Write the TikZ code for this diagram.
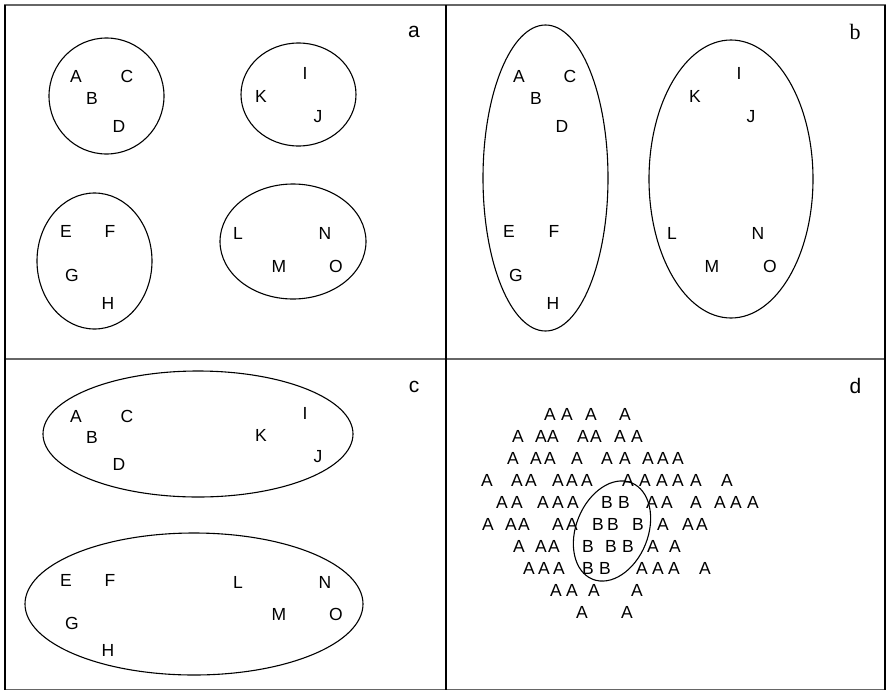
\documentclass[tikz,border=0pt]{standalone}
\usepackage{fontspec}
\setmainfont{Liberation Sans}
\newfontfamily\seriffont{Liberation Serif}
\begin{document}
\begin{tikzpicture}[x=1pt,y=-1pt,
  lt/.style={inner sep=0pt,font=\fontsize{17.5}{20}\selectfont},
  lab/.style={inner sep=0pt,font=\fontsize{21}{24}\selectfont},
  grp/.style={line width=1.1pt},
  hline/.style={line width=1.6pt,black!60},
  vline/.style={line width=1.1pt,black}]
\useasboundingbox (0,0) rectangle (886,691);
% frame
\draw[hline] (4,5) -- (886,5);
\draw[hline] (4,359) -- (886,359);
\draw[hline] (4,689.5) -- (886,689.5);
\draw[vline] (5,5) -- (5,689.5);
\draw[vline] (446,5) -- (446,689.5);
\draw[vline] (885,5) -- (885,689.5);
% panel labels
\node[lab] (la) at (414,32) {a};
\node[lab,font=\seriffont\fontsize{22}{24}\selectfont] (lb) at (855,32) {b};
\node[lab] (lc) at (414,387) {c};
\node[lab] (ld) at (855.5,385.5) {d};
% panel a
\draw[grp] (106.5,96) ellipse [x radius=57.5pt, y radius=58pt];
\draw[grp] (298.5,94.5) ellipse [x radius=57.5pt, y radius=51.5pt];
\draw[grp] (94.5,261) ellipse [x radius=57.5pt, y radius=68pt];
\draw[grp] (293,241.5) ellipse [x radius=73pt, y radius=57.5pt];
\foreach \xx/\yy/\t in {76/76/A,127/76/C,92/98/B,119/126/D,
  305/73/I,261/96/K,318/117/J,
  66/231/E,110/231/F,72/275/G,108/303/H,
  238/233/L,325/233/N,279/266/M,336/266/O}
  \node[lt] (a\t) at (\xx,\yy) {\t};
% panel b
\draw[grp] (545.5,178) ellipse [x radius=62.5pt, y radius=153pt];
\draw[grp] (731,179) ellipse [x radius=82pt, y radius=139pt];
\foreach \xx/\yy/\t in {519/76/A,570/76/C,536/98/B,562/126/D,
  509/231/E,554/231/F,516/275/G,553/303/H,
  739/73/I,695/96/K,751/117/J,
  672/233/L,758/233/N,712/266/M,770/266/O}
  \node[lt] (b\t) at (\xx,\yy) {\t};
% panel c
\draw[grp] (198,434) ellipse [x radius=155pt, y radius=63pt];
\draw[grp] (194,604) ellipse [x radius=169pt, y radius=71pt];
\foreach \xx/\yy/\t in {76/416/A,127/416/C,92/437/B,119/464/D,
  305/413/I,261/435/K,318/457/J,
  66/580/E,110/580/F,72/623/G,108/650/H,
  238/582/L,325/582/N,279/614/M,336/614/O}
  \node[lt] (c\t) at (\xx,\yy) {\t};
% panel d
\draw[grp,rotate around={68:(612,531)}] (612,531) ellipse [x radius=52pt, y radius=36pt];
\foreach \xx/\yy/\t [count=\i] in {
  550/414/A,567/414/A,591/414/A,625/414/A,
  518/436/A,541/436/A,553/436/A,583/436/A,596/436/A,620/436/A,637/436/A,
  513/458/A,536/458/A,550/458/A,577/458/A,607/458/A,625/458/A,648/458/A,663/458/A,678/458/A,
  487/480/A,517/480/A,531/480/A,558/480/A,572/480/A,587/480/A,628/480/A,645/480/A,662/480/A,678/480/A,696/480/A,727/480/A,
  502/502/A,517/502/A,543/502/A,558/502/A,573/502/A,607/502/B,624/502/B,652/502/A,667/502/A,696/502/A,720/502/A,736/502/A,753/502/A,
  488/524/A,511/524/A,524/524/A,558/524/A,572/524/A,598/524/B,613/524/B,638/524/B,663/524/A,688/524/A,702/524/A,
  519/546/A,541/546/A,554/546/A,588/546/B,611/546/B,628/546/B,653/546/A,675/546/A,
  529/568/A,544/568/A,559/568/A,588/568/B,605/568/B,642/568/A,658/568/A,674/568/A,705/568/A,
  556/590/A,572/590/A,594/590/A,637/590/A,
  582/612/A,627/612/A}
  \node[lt] (d\i) at (\xx,\yy) {\t};
\end{tikzpicture}
\end{document}
